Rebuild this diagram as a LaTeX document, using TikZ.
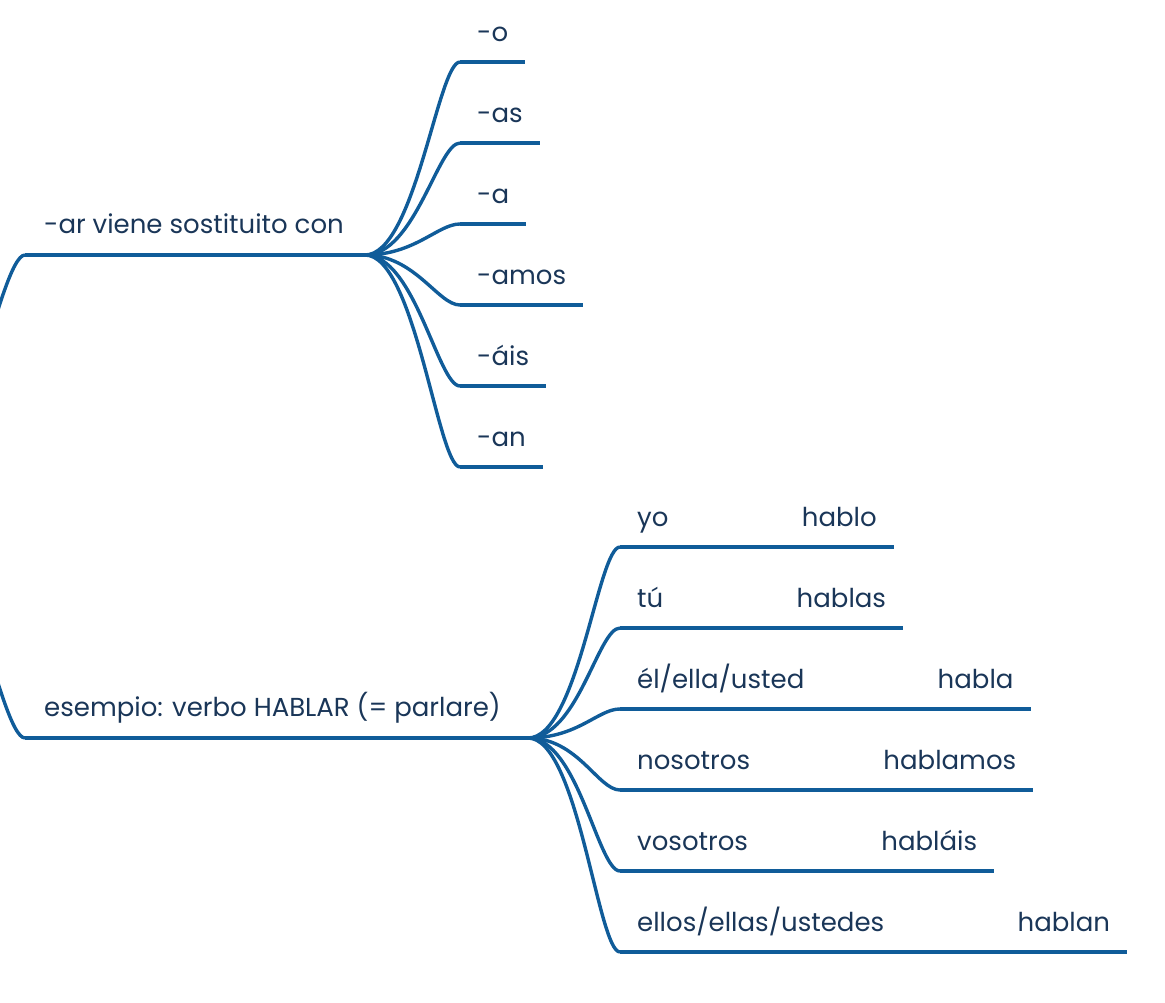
\documentclass[tikz,border=0pt]{standalone}
\usepackage{fontspec}
\setmainfont{Poppins}
\usetikzlibrary{positioning}
\definecolor{branchblue}{RGB}{16,92,153}
\definecolor{inkblue}{RGB}{26,54,88}

\begin{document}
\begin{tikzpicture}[x=1pt,y=-1pt,
	every edge/.style={draw=branchblue,line width=3.4pt},
	sprout/.style={to path={.. controls +(50,0) and +(-22,0) .. (\tikztotarget)}},
	topic/.style={anchor=south west,inner xsep=19pt,inner ysep=0pt,
		text height=19pt,text depth=21pt,text=inkblue,
		font=\fontsize{26}{30}\selectfont},
	leaf/.style={topic,inner xsep=17pt,text depth=20pt}]
	\useasboundingbox (0,0) rectangle (1165,1003);
	\clip (0,0) rectangle (1165,1003);

	\coordinate (root) at (-80,496);

	% -ar endings
	\node[topic] (ar) at (25,255) {-ar viene sostituito con};
	\coordinate (hub1) at (365,255);
	\node[leaf] (o) at (460,62) {-o};
	\node[leaf] (as) at (460,143) {-as};
	\node[leaf] (a) at (460,224) {-a};
	\node[leaf] (amos) at (460,305) {-amos};
	\node[leaf] (ais) at (460,386) {-áis};
	\node[leaf] (an) at (460,467) {-an};

	% hablar
	\node[topic] (hablar) at (25,738) {esempio: verbo HABLAR (= parlare)};
	\coordinate (hub2) at (528,738);
	\node[leaf] (yo) at (620,547) {yo};
	\node[leaf] (hablo) [right=99pt of yo] {hablo};
	\node[leaf] (tu) at (620,628) {tú};
	\node[leaf] (hablas) [right=99pt of tu] {hablas};
	\node[leaf] (el) at (620,709) {él/ella/usted};
	\node[leaf] (habla) [right=99pt of el] {habla};
	\node[leaf] (nos) at (620,790) {nosotros};
	\node[leaf] (hablamos) [right=99pt of nos] {hablamos};
	\node[leaf] (vos) at (620,871) {vosotros};
	\node[leaf] (hablais) [right=99pt of vos] {habláis};
	\node[leaf] (ellos) at (620,952) {ellos/ellas/ustedes};
	\node[leaf] (hablan) [right=99pt of ellos] {hablan};

	\path
	(root) edge [to path={.. controls +(40,0) and +(-25,0) .. (\tikztotarget)}] (ar.south west)
	       edge [to path={.. controls +(40,0) and +(-25,0) .. (\tikztotarget)}] (hablar.south west)
	(ar.south west) edge (hub1)
	(hablar.south west) edge (hub2)

	(hub1) edge [sprout] (o.south west)
	       edge [sprout] (as.south west)
	       edge [sprout] (a.south west)
	       edge [sprout] (amos.south west)
	       edge [sprout] (ais.south west)
	       edge [sprout] (an.south west)
	(o.south west) edge (o.south east)
	(as.south west) edge (as.south east)
	(a.south west) edge (a.south east)
	(amos.south west) edge (amos.south east)
	(ais.south west) edge (ais.south east)
	(an.south west) edge (an.south east)

	(hub2) edge [sprout] (yo.south west)
	       edge [sprout] (tu.south west)
	       edge [sprout] (el.south west)
	       edge [sprout] (nos.south west)
	       edge [sprout] (vos.south west)
	       edge [sprout] (ellos.south west)
	(yo.south west) edge (hablo.south east)
	(tu.south west) edge (hablas.south east)
	(el.south west) edge (habla.south east)
	(nos.south west) edge (hablamos.south east)
	(vos.south west) edge (hablais.south east)
	(ellos.south west) edge (hablan.south east);

\end{tikzpicture}
\end{document}
